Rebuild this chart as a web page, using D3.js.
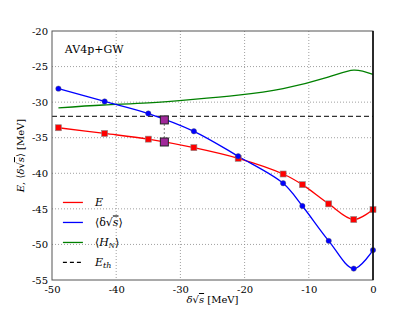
<!DOCTYPE html>
<html>
<head>
<meta charset="utf-8">
<script src="https://cdn.jsdelivr.net/npm/d3@7"></script>
<style>
  body { margin: 0; background: #fff; }
  text { font-family: "DejaVu Serif", "Liberation Serif", serif; }
</style>
</head>
<body>
<div id="chart"></div>
<script>
// tamaño y márgenes
const width = 415;
const height = 312;
const margin = { top: 31, right: 42, bottom: 32, left: 52 };

// datos
const xPts = [-49, -41.8, -35, -27.9, -21, -14, -11, -6.9, -3, 0];
const energy = [-33.6, -34.4, -35.2, -36.4, -37.9, -40.1, -41.6, -44.3, -46.5, -45.1];
const deltaSqrt = [-28.1, -29.9, -31.6, -34.1, -37.6, -41.4, -44.6, -49.5, -53.4, -50.8];
const hnX = [-49, -42, -35, -28, -21, -14, -7, -3, 0];
const hn = [-30.8, -30.4, -30.1, -29.6, -29.0, -28.1, -26.5, -25.5, -26.1];
const eth = -32.0;
const cross = { x: -32.5, top: -32.5, bottom: -35.6 };
const xTicks = [-50, -40, -30, -20, -10, 0];
const yTicks = [-20, -25, -30, -35, -40, -45, -50, -55];
const legendItems = [
  { key: "E", color: "#ff0000", dash: null },
  { key: "ds", color: "#0000ff", dash: null },
  { key: "HN", color: "#008000", dash: null },
  { key: "Eth", color: "#000000", dash: "4,3" }
];

const svg = d3.select("#chart").append("svg")
  .attr("width", width)
  .attr("height", height)
  .attr("viewBox", [0, 0, width, height]);

const x = d3.scaleLinear([-50, 0], [margin.left, width - margin.right]);
const y = d3.scaleLinear([-55, -20], [height - margin.bottom, margin.top]);

// rejilla punteada
svg.append("g")
  .selectAll("line")
  .data(xTicks.slice(1, -1))
  .join("line")
  .attr("x1", d => x(d)).attr("x2", d => x(d))
  .attr("y1", y(-20)).attr("y2", y(-55))
  .attr("stroke", "#888").attr("stroke-width", 0.8)
  .attr("stroke-dasharray", "1,2");

svg.append("g")
  .selectAll("line")
  .data(yTicks.slice(1, -1))
  .join("line")
  .attr("x1", x(-50)).attr("x2", x(0))
  .attr("y1", d => y(d)).attr("y2", d => y(d))
  .attr("stroke", "#888").attr("stroke-width", 0.8)
  .attr("stroke-dasharray", "1,2");

// ejes
const xAxis = svg.append("g")
  .attr("transform", `translate(0,${y(-55)})`)
  .call(d3.axisBottom(x).tickValues(xTicks).tickSize(0).tickPadding(6).tickFormat(d => String(d)));
xAxis.select(".domain").remove();
xAxis.selectAll("text").attr("font-size", 10).attr("font-family", "DejaVu Serif").attr("fill", "#000");

const yAxis = svg.append("g")
  .attr("transform", `translate(${x(-50)},0)`)
  .call(d3.axisLeft(y).tickValues(yTicks).tickSize(0).tickPadding(4).tickFormat(d => String(d)));
yAxis.select(".domain").remove();
yAxis.selectAll("text").attr("font-size", 10).attr("font-family", "DejaVu Serif").attr("fill", "#000");

// línea umbral
svg.append("line")
  .attr("x1", x(-50)).attr("x2", x(0))
  .attr("y1", y(eth)).attr("y2", y(eth))
  .attr("stroke", "#333").attr("stroke-width", 1.2)
  .attr("stroke-dasharray", "5,3");

const line = (xs, curve) => d3.line()
  .x((d, i) => x(xs[i]))
  .y(d => y(d))
  .curve(curve);

svg.append("path")
  .attr("fill", "none").attr("stroke", "#008000").attr("stroke-width", 1.3)
  .attr("d", line(hnX, d3.curveNatural)(hn));

svg.append("path")
  .attr("fill", "none").attr("stroke", "#ff0000").attr("stroke-width", 1.3)
  .attr("d", line(xPts, d3.curveCatmullRom.alpha(0.5))(energy));

svg.append("path")
  .attr("fill", "none").attr("stroke", "#0000ff").attr("stroke-width", 1.3)
  .attr("d", line(xPts, d3.curveCatmullRom.alpha(0.5))(deltaSqrt));

// marcadores
svg.append("g")
  .selectAll("rect")
  .data(energy)
  .join("rect")
  .attr("x", (d, i) => x(xPts[i]) - 3)
  .attr("y", d => y(d) - 3)
  .attr("width", 6).attr("height", 6)
  .attr("fill", "#ff0000").attr("stroke", "#888").attr("stroke-width", 0.6);

svg.append("g")
  .selectAll("circle")
  .data(deltaSqrt)
  .join("circle")
  .attr("cx", (d, i) => x(xPts[i]))
  .attr("cy", d => y(d))
  .attr("r", 2.7)
  .attr("fill", "#0000ff").attr("stroke", "#555").attr("stroke-width", 0.4);

// cruce
svg.append("line")
  .attr("x1", x(cross.x)).attr("x2", x(cross.x))
  .attr("y1", y(cross.top)).attr("y2", y(cross.bottom))
  .attr("stroke", "#999").attr("stroke-width", 1.2)
  .attr("stroke-dasharray", "2,2");

svg.append("g")
  .selectAll("rect")
  .data([cross.top, cross.bottom])
  .join("rect")
  .attr("x", x(cross.x) - 4)
  .attr("y", d => y(d) - 4)
  .attr("width", 8).attr("height", 8)
  .attr("fill", "#a0289a").attr("stroke", "#222").attr("stroke-width", 1);

// marco
svg.append("rect")
  .attr("x", x(-50)).attr("y", y(-20))
  .attr("width", x(0) - x(-50)).attr("height", y(-55) - y(-20))
  .attr("fill", "none").attr("stroke", "#555").attr("stroke-width", 1);
svg.append("line")
  .attr("x1", x(0)).attr("x2", x(0))
  .attr("y1", y(-20)).attr("y2", y(-55))
  .attr("stroke", "#000").attr("stroke-width", 1.5);

// texto
svg.append("text")
  .attr("x", x(-48)).attr("y", y(-23.1))
  .attr("font-size", 11)
  .text("AV4p+GW");

// leyenda
const leg = svg.append("g").attr("transform", `translate(${x(-48.3)},${y(-44.1)})`);
leg.selectAll("line")
  .data(legendItems)
  .join("line")
  .attr("x1", 0).attr("x2", 20)
  .attr("y1", (d, i) => i * 20).attr("y2", (d, i) => i * 20)
  .attr("stroke", d => d.color).attr("stroke-width", 1.3)
  .attr("stroke-dasharray", d => d.dash);

const lt = leg.selectAll("text")
  .data(legendItems)
  .join("text")
  .attr("x", 32)
  .attr("y", (d, i) => i * 20 + 4)
  .attr("font-size", 11)
  .attr("font-style", "italic");

lt.each(function (d) {
  const t = d3.select(this);
  if (d.key === "E") {
    t.text("E");
  } else if (d.key === "ds") {
    t.append("tspan").attr("font-style", "normal").text("⟨δ√");
    t.append("tspan").style("text-decoration", "overline").text("s");
    t.append("tspan").attr("font-style", "normal").text("⟩");
  } else if (d.key === "HN") {
    t.append("tspan").attr("font-style", "normal").text("⟨");
    t.append("tspan").text("H");
    t.append("tspan").attr("font-size", 7).attr("dy", 2).text("N");
    t.append("tspan").attr("font-style", "normal").attr("dy", -2).text("⟩");
  } else {
    t.append("tspan").text("E");
    t.append("tspan").attr("font-size", 8).attr("dy", 2).text("th");
  }
});

// títulos de ejes
const xl = svg.append("text")
  .attr("x", (x(-50) + x(0)) / 2)
  .attr("y", 303)
  .attr("text-anchor", "middle")
  .attr("font-size", 10);
xl.append("tspan").attr("font-style", "italic").text("δ");
xl.append("tspan").text("√");
xl.append("tspan").attr("font-style", "italic").style("text-decoration", "overline").text("s");
xl.append("tspan").text(" [MeV]");

const yl = svg.append("text")
  .attr("transform", `translate(24,${(y(-20) + y(-55)) / 2}) rotate(-90)`)
  .attr("text-anchor", "middle")
  .attr("font-size", 10);
yl.append("tspan").attr("font-style", "italic").text("E");
yl.append("tspan").text(", ⟨");
yl.append("tspan").attr("font-style", "italic").text("δ");
yl.append("tspan").text("√");
yl.append("tspan").attr("font-style", "italic").style("text-decoration", "overline").text("s");
yl.append("tspan").text("⟩ [MeV]");
</script>
</body>
</html>
